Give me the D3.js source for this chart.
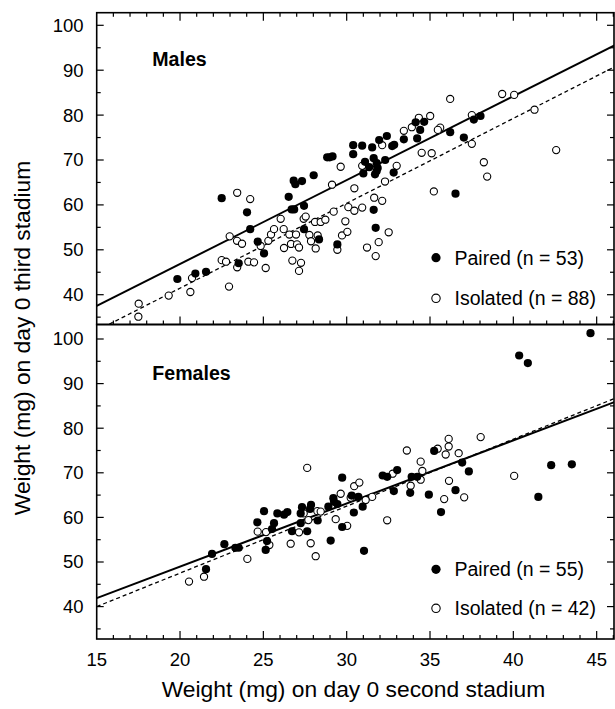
<!DOCTYPE html>
<html><head><meta charset="utf-8">
<script src="https://cdn.jsdelivr.net/npm/d3@7"></script>
<style>body{margin:0;background:#fff}svg{display:block}</style>
</head><body>
<script>
// ---- data ----
const xTickLabels = [15,20,25,30,35,40,45];
const yTickLabels = [40,50,60,70,80,90,100];
const panelNames = ["Males","Females"];
const legendPaired = ["Paired (n = 53)","Paired (n = 55)"];
const legendIsolated = ["Isolated (n = 88)","Isolated (n = 42)"];

const malesPaired = [[22.5,61.5],[24.02,58.35],[24.21,54.6],[24.66,51.8],[23.52,47.0],[25.04,49.2],[19.84,43.5],[20.92,44.7],[21.56,45.1],[26.52,61.8],[26.82,65.4],[26.92,64.6],[27.32,65.3],[28.02,66.6],[26.7,59.0],[26.85,59.0],[27.44,59.8],[27.44,54.6],[28.34,52.3],[29.44,51.2],[28.83,70.6],[28.98,70.6],[29.15,70.8],[30.39,73.3],[30.39,71.3],[30.93,73.2],[31.53,72.8],[31.95,74.45],[32.41,75.35],[32.73,73.1],[32.85,73.4],[33.43,74.6],[34.14,78.4],[34.65,78.5],[34.41,76.7],[34.23,74.8],[36.21,76.2],[37.03,75.0],[37.63,79.0],[38.03,79.8],[31.1,69.6],[31.62,70.4],[31.8,69.3],[32.31,70.0],[31.35,68.4],[31.86,68.2],[31.0,67.0],[31.8,67.55],[31.7,66.8],[32.82,67.2],[31.62,58.9],[31.74,54.9],[36.53,62.5]];
const malesIsolated = [[29.64,68.5],[23.43,62.7],[24.21,61.3],[22.98,53.0],[23.42,52.0],[23.72,51.35],[22.5,47.7],[22.76,47.35],[23.43,46.1],[24.1,47.35],[24.44,47.2],[22.94,41.8],[20.72,43.7],[20.62,40.6],[19.32,39.8],[17.52,38.0],[17.5,35.1],[24.84,50.85],[25.14,45.95],[25.3,52.0],[25.46,53.4],[25.64,54.6],[26.04,56.9],[26.22,54.6],[26.24,50.4],[26.56,53.4],[26.66,51.3],[26.74,47.6],[26.96,53.4],[27.02,51.2],[27.14,50.5],[27.14,45.3],[27.26,47.1],[27.42,56.9],[27.54,57.4],[27.76,53.3],[27.86,51.9],[28.1,56.2],[28.14,50.3],[28.26,53.2],[28.44,56.2],[28.72,56.7],[29.12,64.5],[29.22,58.5],[29.72,53.2],[29.92,56.35],[30.04,54.0],[29.44,50.0],[30.1,59.5],[30.46,63.7],[30.46,58.7],[30.93,68.7],[33.0,68.7],[32.3,65.2],[30.93,59.4],[31.65,61.6],[32.13,60.9],[31.22,50.5],[31.92,51.7],[31.74,48.6],[32.52,53.9],[35.23,63.0],[38.23,69.5],[38.43,66.3],[34.5,71.6],[35.1,71.5],[42.57,72.2],[32.13,73.3],[33.43,76.5],[33.91,77.3],[34.33,79.4],[35.01,79.8],[35.61,77.2],[35.47,76.7],[36.21,83.6],[37.51,80.0],[37.51,73.6],[39.33,84.7],[40.05,84.5],[41.27,81.2]];
const femalesPaired = [[29.73,68.9],[30.3,64.9],[29.2,64.3],[28.9,62.4],[29.24,63.5],[29.44,63.0],[30.43,61.1],[29.73,57.85],[29.04,54.8],[28.26,59.3],[27.86,62.8],[27.8,61.9],[27.24,60.9],[27.32,62.3],[27.24,58.7],[27.63,56.9],[26.72,56.9],[26.44,61.2],[26.24,60.6],[25.84,60.9],[25.64,58.7],[25.52,57.4],[25.04,61.4],[24.64,58.9],[25.22,54.7],[25.14,52.7],[23.52,53.2],[23.32,53.2],[22.66,54.0],[21.92,51.8],[21.56,48.4],[44.63,101.3],[40.35,96.3],[40.87,94.6],[32.16,69.4],[32.43,69.1],[33.03,70.6],[35.25,74.9],[36.93,72.3],[37.33,70.3],[33.9,69.1],[34.23,69.1],[32.83,65.9],[33.81,65.5],[34.93,65.1],[36.53,66.1],[42.27,71.7],[43.51,71.9],[41.5,64.6],[30.7,64.6],[30.96,62.4],[31.04,52.5],[35.66,61.2]];
const femalesIsolated = [[27.63,71.1],[29.64,65.3],[30.45,67.0],[24.66,56.8],[25.16,56.7],[25.36,53.8],[26.64,54.1],[27.14,56.65],[27.42,60.9],[27.84,54.2],[28.14,51.3],[27.7,59.4],[28.24,61.4],[28.44,61.3],[29.34,59.6],[30.03,58.1],[30.24,64.4],[24.04,50.7],[21.44,46.7],[20.54,45.6],[33.61,75.0],[35.46,75.4],[36.12,77.6],[36.12,75.9],[35.94,74.1],[36.72,74.4],[38.04,78.0],[34.44,72.5],[34.54,70.4],[34.44,68.45],[33.84,67.1],[36.14,68.2],[32.76,69.8],[30.76,67.8],[31.53,64.6],[40.05,69.3],[35.85,64.1],[37.05,64.5],[31.14,63.9],[32.43,59.35]];

// regression lines: [x0, y0, x1, y1] in data units
const malesPairedLine = [15, 37.5, 46.1, 95.6];
const malesIsolatedLine = [15, 32.0, 46.1, 90.8];
const femalesPairedLine = [15, 41.9, 46.1, 85.9];
const femalesIsolatedLine = [15, 40.0, 46.1, 86.7];

// ---- layout ----
const W = 615, H = 709;
const FONT = "'Liberation Sans', Arial, Helvetica, sans-serif";
const svg = d3.select("body").append("svg").attr("width", W).attr("height", H)
  .style("font-family", FONT);

const x = d3.scaleLinear().domain([15, 46.1]).range([96.7, 615]);
const left = 96.7, right = 614;

const panels = [
  {top: 12.7, bottom: 324.5, y: d3.scaleLinear().domain([40,100]).range([294.7, 25.3]),
   paired: malesPaired, isolated: malesIsolated, pl: malesPairedLine, il: malesIsolatedLine,
   name: panelNames[0], nameY: 66, legP: legendPaired[0], legI: legendIsolated[0], legY: [257.7, 298.3], topTicks: true},
  {top: 324.5, bottom: 639, y: d3.scaleLinear().domain([40,100]).range([606.6, 339]),
   paired: femalesPaired, isolated: femalesIsolated, pl: femalesPairedLine, il: femalesIsolatedLine,
   name: panelNames[1], nameY: 379.5, legP: legendPaired[1], legI: legendIsolated[1], legY: [569.3, 608.3], topTicks: false}
];

panels.forEach((p, i) => {
  const g = svg.append("g");
  const clipId = "clip" + i;
  svg.append("clipPath").attr("id", clipId).append("rect")
    .attr("x", left).attr("y", p.top).attr("width", right - left).attr("height", p.bottom - p.top);

  // ticks
  const minorX = d3.range(16, 47, 1);
  minorX.forEach(v => {
    const major = v % 5 === 0;
    const len = major ? 8 : 4;
    const px = x(v);
    if (px > right) return;
    g.append("line").attr("x1", px).attr("x2", px).attr("y1", p.bottom).attr("y2", p.bottom - len)
      .attr("stroke", "#000").attr("stroke-width", 1.2);
    if (p.topTicks) g.append("line").attr("x1", px).attr("x2", px).attr("y1", p.top).attr("y2", p.top + len)
      .attr("stroke", "#000").attr("stroke-width", 1.2);
  });
  d3.range(35, 105, 5).forEach(v => {
    const py = p.y(v);
    if (py < p.top + 1 || py > p.bottom - 1) return;
    const major = v % 10 === 0;
    const len = major ? 7 : 4;
    g.append("line").attr("x1", left).attr("x2", left + len).attr("y1", py).attr("y2", py)
      .attr("stroke", "#000").attr("stroke-width", 1.2);
    g.append("line").attr("x1", right).attr("x2", right - len).attr("y1", py).attr("y2", py)
      .attr("stroke", "#000").attr("stroke-width", 1.2);
  });
  // y tick labels
  g.selectAll(".yl").data(yTickLabels).enter().append("text")
    .attr("x", 83.5).attr("y", d => p.y(d)).attr("dy", "0.35em")
    .attr("text-anchor", "end").attr("font-size", 18.5).text(d => d);

  // regression lines
  const lg = g.append("g").attr("clip-path", `url(#${clipId})`);
  lg.append("line").attr("x1", x(p.pl[0])).attr("y1", p.y(p.pl[1])).attr("x2", x(p.pl[2])).attr("y2", p.y(p.pl[3]))
    .attr("stroke", "#000").attr("stroke-width", 2);
  lg.append("line").attr("x1", x(p.il[0])).attr("y1", p.y(p.il[1])).attr("x2", x(p.il[2])).attr("y2", p.y(p.il[3]))
    .attr("stroke", "#000").attr("stroke-width", 1.3).attr("stroke-dasharray", "4,3");

  // points
  const pg = g.append("g").attr("clip-path", `url(#${clipId})`);
  pg.selectAll(".iso").data(p.isolated).enter().append("circle")
    .attr("cx", d => x(d[0])).attr("cy", d => p.y(d[1])).attr("r", 3.6)
    .attr("fill", "#fff").attr("stroke", "#000").attr("stroke-width", 1.1);
  pg.selectAll(".pair").data(p.paired).enter().append("circle")
    .attr("cx", d => x(d[0])).attr("cy", d => p.y(d[1])).attr("r", 4.1)
    .attr("fill", "#000");

  // frame
  g.append("rect").attr("x", left).attr("y", p.top).attr("width", right - left).attr("height", p.bottom - p.top)
    .attr("fill", "none").attr("stroke", "#000").attr("stroke-width", 1.6);

  // panel name
  g.append("text").attr("x", 152.3).attr("y", p.nameY).attr("font-size", 19.6).attr("font-weight", "bold").text(p.name);

  // legend
  g.append("circle").attr("cx", 436).attr("cy", p.legY[0]).attr("r", 4.6).attr("fill", "#000");
  g.append("circle").attr("cx", 436).attr("cy", p.legY[1]).attr("r", 4.2).attr("fill", "#fff").attr("stroke", "#000").attr("stroke-width", 1.1);
  g.append("text").attr("x", 454.5).attr("y", p.legY[0]).attr("dy", "0.36em").attr("font-size", 19.5).text(p.legP);
  g.append("text").attr("x", 454.5).attr("y", p.legY[1]).attr("dy", "0.36em").attr("font-size", 19.5).text(p.legI);
});

// x tick labels
svg.selectAll(".xl").data(xTickLabels).enter().append("text")
  .attr("x", d => x(d)).attr("y", 666).attr("text-anchor", "middle").attr("font-size", 18.5).text(d => d);

// axis titles
svg.append("text").attr("x", 353.5).attr("y", 697).attr("text-anchor", "middle").attr("font-size", 22.8)
  .text("Weight (mg) on day 0 second stadium");
svg.append("text").attr("transform", "translate(30,338) rotate(-90)").attr("text-anchor", "middle").attr("font-size", 22.8)
  .text("Weight (mg) on day 0 third stadium");
</script>
</body></html>
